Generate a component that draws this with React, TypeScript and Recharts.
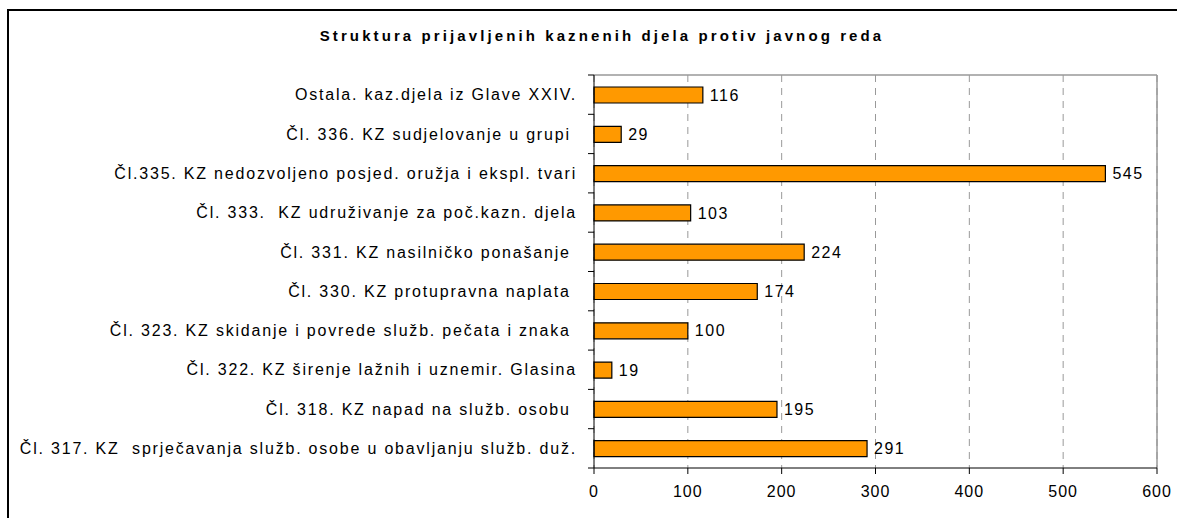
import { Bar, BarChart, CartesianGrid, LabelList, ReferenceLine, XAxis, YAxis } from "recharts";

// Struktura prijavljenih kaznenih djela protiv javnog reda – vodoravni stupci,
// narančasta ispuna s crnim rubom, isprekidana mreža kao u Excelu.

const categories = [
  "Ostala. kaz.djela iz Glave XXIV.",
  "Čl. 336. KZ sudjelovanje u grupi ",
  "Čl.335. KZ nedozvoljeno posjed. oružja i ekspl. tvari",
  "Čl. 333.  KZ udruživanje za poč.kazn. djela",
  "Čl. 331. KZ nasilničko ponašanje ",
  "Čl. 330. KZ protupravna naplata ",
  "Čl. 323. KZ skidanje i povrede služb. pečata i znaka ",
  "Čl. 322. KZ širenje lažnih i uznemir. Glasina",
  "Čl. 318. KZ napad na služb. osobu ",
  "Čl. 317. KZ  sprječavanja služb. osobe u obavljanju služb. duž.",
];
const values = [116, 29, 545, 103, 224, 174, 100, 19, 195, 291];
const xTicks = [0, 100, 200, 300, 400, 500, 600];

const data = categories.map((name, i) => ({ name, value: values[i] }));

const font = "'Liberation Sans', Arial, sans-serif";

// oznaka kategorije + kratka crtica na granici pojasa (kao u Excelu)
function CategoryTick(props: any) {
  const { x, y, payload, index, visibleTicksCount } = props;
  const half = payload?.offset ?? 0;
  const last = index === visibleTicksCount - 1;
  return (
    <g>
      <line x1={x - 6} x2={x} y1={y - half} y2={y - half} stroke="#000" />
      {last && <line x1={x - 6} x2={x} y1={y + half} y2={y + half} stroke="#000" />}
      <text
        x={x - 17}
        y={y}
        dy="0.355em"
        textAnchor="end"
        fill="#000"
        fontSize={16}
        fontFamily={font}
        letterSpacing={1.8}
        style={{ whiteSpace: "pre" }}
      >
        {payload.value}
      </text>
    </g>
  );
}

export default function App() {
  return (
    <div
      style={{
        position: "absolute",
        left: 0,
        top: 0,
        width: 1177,
        height: 518,
        overflow: "hidden",
        background: "#fff",
        fontFamily: font,
      }}
    >
      <div
        style={{
          position: "absolute",
          left: 7,
          top: 9,
          width: 1400,
          height: 700,
          borderLeft: "2px solid #000",
          borderTop: "2px solid #000",
        }}
      />
      <div
        style={{
          position: "absolute",
          left: 0,
          top: 27,
          width: 1204,
          textAlign: "center",
          fontWeight: "bold",
          fontSize: 15,
          letterSpacing: 3.1,
          color: "#000",
        }}
      >
        Struktura prijavljenih kaznenih djela protiv javnog reda
      </div>
      <BarChart
        width={1177}
        height={518}
        data={data}
        layout="vertical"
        barSize={16}
        margin={{ top: 75, right: 20, bottom: 0, left: 0 }}
        style={{ position: "absolute", left: 0, top: 0 }}
      >
        <CartesianGrid
          horizontal={false}
          stroke="#999"
          strokeDasharray="7 6"
        />
        <CartesianGrid
          vertical={false}
          stroke="#999"
          strokeWidth={1.5}
          horizontalCoordinatesGenerator={({ offset }: any) => [offset.top]}
        />
        <XAxis
          type="number"
          domain={[0, 600]}
          ticks={xTicks}
          interval={0}
          height={50}
          axisLine={{ stroke: "#000" }}
          tickLine={{ stroke: "#000" }}
          tickSize={6}
          tickMargin={12}
          tick={{ fill: "#000", fontSize: 16, fontFamily: font, letterSpacing: 1 }}
        />
        <YAxis
          type="category"
          dataKey="name"
          width={594}
          interval={0}
          axisLine={{ stroke: "#000" }}
          tickLine={false}
          tickSize={0}
          tickMargin={0}
          tick={<CategoryTick />}
        />
        <ReferenceLine x={600} stroke="#999" strokeWidth={1.5} />
        <Bar
          dataKey="value"
          fill="#FF9900"
          stroke="#000"
          strokeWidth={1.2}
          isAnimationActive={false}
        >
          <LabelList
            dataKey="value"
            position="right"
            offset={7}
            fill="#000"
            fontSize={16}
            fontFamily={font}
            letterSpacing={1.5}
          />
        </Bar>
      </BarChart>
    </div>
  );
}
